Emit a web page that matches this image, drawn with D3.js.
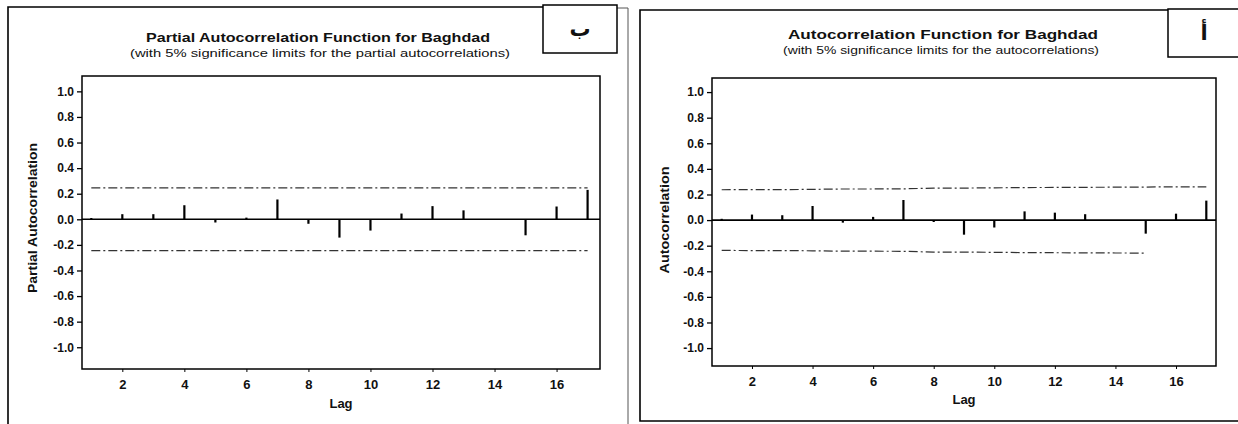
<!DOCTYPE html>
<html>
<head>
<meta charset="utf-8">
<script src="https://cdn.jsdelivr.net/npm/d3@7"></script>
<style>
  html, body { margin: 0; padding: 0; background: #fff; }
  svg { display: block; }
  text { font-family: "Liberation Sans", Arial, sans-serif; fill: #111; }
</style>
</head>
<body>
<svg id="chart" width="1238" height="424"></svg>
<script>
// ---- data ----
const lags = [1, 2, 3, 4, 5, 6, 7, 8, 9, 10, 11, 12, 13, 14, 15, 16, 17];
const pacfValues = [0.01, 0.04, 0.04, 0.11, -0.025, 0.013, 0.155, -0.035, -0.143, -0.088, 0.045, 0.103, 0.07, -0.005, -0.125, 0.10, 0.23];
const acfValues = [0.01, 0.043, 0.038, 0.11, -0.02, 0.025, 0.157, -0.015, -0.114, -0.058, 0.068, 0.058, 0.046, -0.005, -0.106, 0.05, 0.152];
const pacfLimits = [0.245, 0.245, 0.245, 0.245, 0.245, 0.245, 0.245, 0.245, 0.245, 0.245, 0.245, 0.245, 0.245, 0.245, 0.245, 0.245, 0.245];
const acfLimits = [0.237, 0.238, 0.238, 0.24, 0.243, 0.243, 0.244, 0.25, 0.25, 0.252, 0.254, 0.255, 0.256, 0.257, 0.258, 0.26, 0.26];
const yTicks = [1.0, 0.8, 0.6, 0.4, 0.2, 0.0, -0.2, -0.4, -0.6, -0.8, -1.0];
const xTicks = [2, 4, 6, 8, 10, 12, 14, 16];

const svg = d3.select("#chart");
const fmtY = d => d3.format(".1f")(d).replace("\u2212", "-");

function drawPanel(cfg) {
  const g = svg.append("g");
  const x = d3.scaleLinear().domain(cfg.xDomain).range([cfg.left, cfg.right]);
  const y = d3.scaleLinear().domain(cfg.yDomain).range([cfg.bottom, cfg.top]);

  // label box
  g.append("rect").attr("x", cfg.box[0]).attr("y", cfg.box[1])
    .attr("width", cfg.box[2]).attr("height", cfg.box[3])
    .attr("fill", "#fff").attr("stroke", "#000").attr("stroke-width", 1.5);
  g.append("text").attr("x", cfg.box[0] + cfg.box[2] / 2).attr("y", cfg.box[1] + cfg.box[3] / 2 + 7)
    .attr("text-anchor", "middle").style("font-family", "'DejaVu Sans', sans-serif")
    .style("font-size", "21px").style("font-weight", "bold").text(cfg.boxLabel);

  // titles
  g.append("text").attr("x", cfg.titleX).attr("y", cfg.titleY)
    .attr("text-anchor", "middle").style("font-size", "13px").style("font-weight", "bold")
    .attr("textLength", cfg.titleW).attr("lengthAdjust", "spacingAndGlyphs")
    .text(cfg.title);
  g.append("text").attr("x", cfg.subX).attr("y", cfg.subY)
    .attr("text-anchor", "middle").style("font-size", "10px")
    .attr("textLength", cfg.subW).attr("lengthAdjust", "spacingAndGlyphs")
    .text(cfg.subtitle);

  // y axis
  const yAxis = d3.axisLeft(y).tickValues(yTicks).tickSize(5).tickPadding(3).tickFormat(fmtY);
  const ya = g.append("g").attr("transform", `translate(${cfg.left},0)`).call(yAxis);
  ya.select(".domain").remove();
  ya.selectAll("text").style("font-size", "12px").style("font-weight", "bold")
    .style("font-family", "'Liberation Sans', Arial, sans-serif");
  ya.selectAll("line").attr("stroke", "#000").attr("stroke-width", 1.3);

  // x axis
  const xAxis = d3.axisBottom(x).tickValues(xTicks).tickSize(3).tickPadding(8)
    .tickFormat(d3.format("d"));
  const xa = g.append("g").attr("transform", `translate(0,${cfg.bottom})`).call(xAxis);
  xa.select(".domain").remove();
  xa.selectAll("text").style("font-size", "13px").style("font-weight", "bold")
    .style("font-family", "'Liberation Sans', Arial, sans-serif");
  xa.selectAll("line").attr("stroke", "#000");

  // axis titles
  g.append("text").attr("x", (cfg.left + cfg.right) / 2).attr("y", cfg.lagY)
    .attr("text-anchor", "middle").style("font-size", "13px").style("font-weight", "bold")
    .text("Lag");
  g.append("text")
    .attr("transform", `translate(${cfg.yLabelX},${cfg.yLabelY}) rotate(-90)`)
    .attr("text-anchor", "middle").style("font-size", "12px").style("font-weight", "bold")
    .attr("textLength", cfg.yLabelW).attr("lengthAdjust", "spacingAndGlyphs")
    .text(cfg.yLabel);

  // plot frame
  g.append("rect").attr("x", cfg.left).attr("y", cfg.top)
    .attr("width", cfg.right - cfg.left).attr("height", cfg.bottom - cfg.top)
    .attr("fill", "none").attr("stroke", "#000").attr("stroke-width", 1.5);

  // significance limits
  const lineGen = d3.line().x(d => x(d[0])).y(d => y(d[1]));
  const upper = lags.map((l, i) => [l, cfg.limits[i]]);
  const lower = lags.slice(0, cfg.lowerEndIdx + 1).map((l, i) => [l, -cfg.limits[i]]);
  [upper, lower].forEach(pts => {
    g.append("path").attr("d", lineGen(pts)).attr("fill", "none")
      .attr("stroke", "#333").attr("stroke-width", 1.2)
      .attr("stroke-dasharray", "9,3,2,3");
  });

  // zero line
  g.append("line").attr("x1", cfg.left).attr("x2", cfg.right)
    .attr("y1", y(0)).attr("y2", y(0)).attr("stroke", "#000").attr("stroke-width", 1.6);

  // bars
  g.selectAll(".bar").data(lags.map((l, i) => [l, cfg.values[i]])).enter()
    .append("line").attr("class", "bar")
    .attr("x1", d => x(d[0])).attr("x2", d => x(d[0]))
    .attr("y1", y(0)).attr("y2", d => y(d[1]))
    .attr("stroke", "#000").attr("stroke-width", 2.2);
}

// panel frames
svg.append("path").attr("d", "M8,424 V7 H543").attr("fill", "none").attr("stroke", "#000").attr("stroke-width", 1.6);
svg.append("path").attr("d", "M617,8 H628 V424").attr("fill", "none").attr("stroke", "#555").attr("stroke-width", 1);
svg.append("path").attr("d", "M1238,10 H640 V421 H1238").attr("fill", "none").attr("stroke", "#000").attr("stroke-width", 1.6);

drawPanel({
  left: 82, right: 600, top: 76, bottom: 369,
  xDomain: [0.7, 17.4], yDomain: [-1.17, 1.12],
  values: pacfValues, limits: pacfLimits, lowerEndIdx: 16,
  title: "Partial Autocorrelation Function for Baghdad",
  subtitle: "(with 5% significance limits for the partial autocorrelations)",
  titleX: 318, titleY: 42, titleW: 344, subX: 320, subY: 57, subW: 380,
  yLabel: "Partial Autocorrelation", yLabelX: 37, yLabelY: 218, yLabelW: 150,
  lagY: 408,
  box: [543, 5, 74, 48], boxLabel: "ب"
});

drawPanel({
  left: 712, right: 1216, top: 78, bottom: 366,
  xDomain: [0.68, 17.32], yDomain: [-1.14, 1.11],
  values: acfValues, limits: acfLimits, lowerEndIdx: 14,
  title: "Autocorrelation Function for Baghdad",
  subtitle: "(with 5% significance limits for the autocorrelations)",
  titleX: 943, titleY: 39, titleW: 310, subX: 941, subY: 54, subW: 316,
  yLabel: "Autocorrelation", yLabelX: 669, yLabelY: 220, yLabelW: 107,
  lagY: 404,
  box: [1168, 9, 72, 48], boxLabel: "أ"
});
</script>
</body>
</html>
